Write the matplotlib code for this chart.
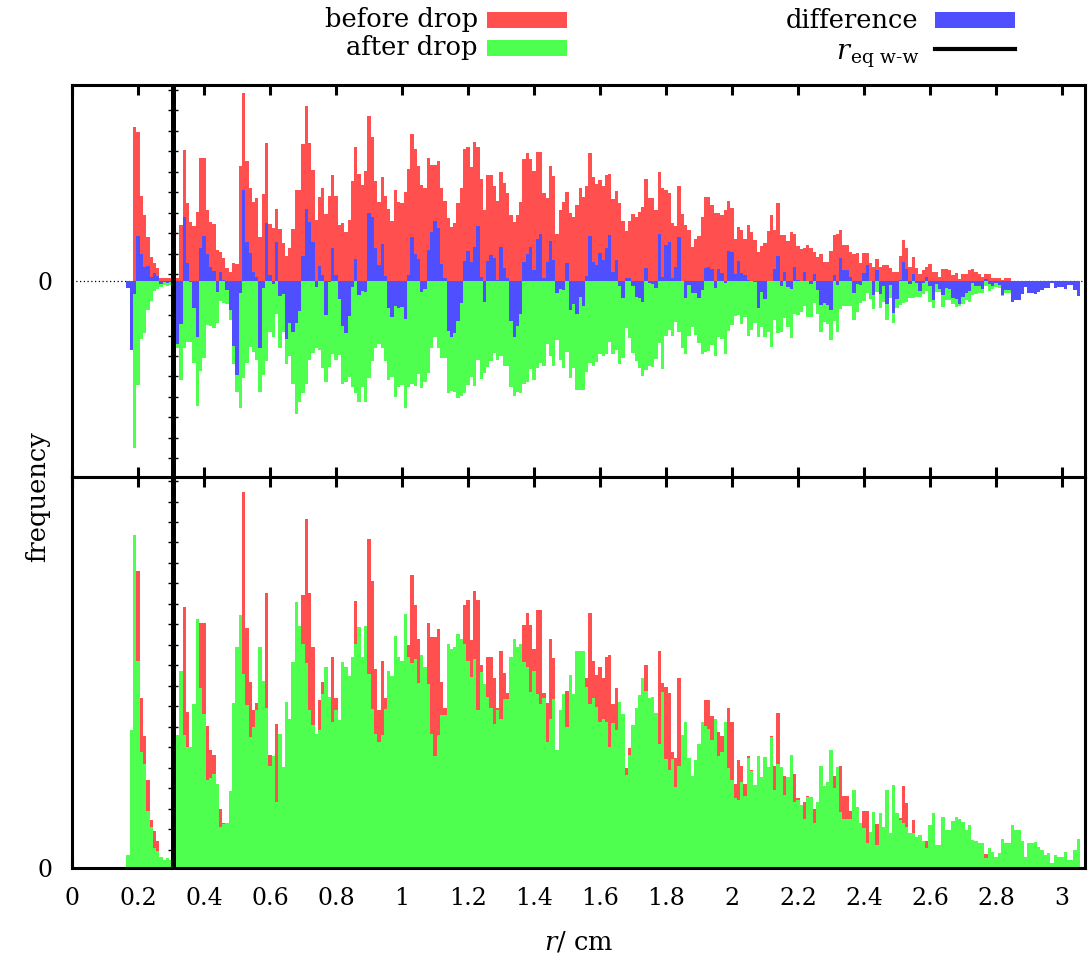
import numpy as np
import matplotlib.pyplot as plt
from matplotlib.patches import Rectangle
from matplotlib.lines import Line2D
from matplotlib.ticker import MultipleLocator

plt.rcParams['font.family'] = ['DejaVu Serif']
plt.rcParams['mathtext.fontset'] = 'dejavuserif'

# histogram bins: centres from 0.17 cm in steps of 0.01 cm
bin_first = 0.17
bin_width = 0.01
r_eq = 0.305

# counts before the drop (arbitrary units)
before = (
    # 0.17 - 0.31
    [0, 0, 461, 447, 255, 198, 132, 72, 55, 40, 8, 10, 10, 8, 8]
    # 0.32 - 0.62
    + [10, 168, 393, 235, 178, 165, 206, 368, 368, 213, 178, 170, 93, 88, 68, 40,
       28, 53, 50, 345, 565, 361, 280, 238, 248, 132, 260, 413, 170, 160, 216]
    # 0.63 - 1.11
    + [156, 113, 75, 98, 156, 273, 273, 411, 525, 414, 333, 183, 252, 279, 201,
       255, 318, 255, 168, 174, 147, 183, 300, 402, 321, 288, 330, 495, 432, 300,
       237, 312, 255, 216, 180, 273, 237, 234, 267, 336, 441, 396, 345, 288, 279,
       369, 348, 348, 360]
    # 1.12 - 1.59
    + [280, 240, 188, 163, 175, 233, 278, 396, 403, 343, 416, 403, 306, 213, 318,
       318, 285, 240, 326, 293, 263, 198, 176, 198, 238, 366, 383, 366, 330, 388,
       388, 263, 248, 345, 316, 140, 213, 236, 266, 203, 193, 228, 278, 251, 286,
       383, 311, 290]
    # 1.60 - 2.08
    + [303, 286, 318, 320, 246, 270, 234, 180, 150, 180, 201, 193, 208, 222, 306,
       248, 248, 213, 326, 278, 272, 263, 174, 165, 285, 200, 168, 153, 102, 126,
       135, 192, 252, 252, 228, 204, 204, 198, 213, 240, 219, 126, 162, 153, 126,
       168, 147, 123, 87]
    # 2.09 - 2.56
    + [105, 113, 151, 198, 153, 233, 138, 138, 120, 147, 141, 105, 95, 100, 108,
       98, 88, 72, 81, 58, 58, 90, 138, 141, 153, 108, 108, 86, 81, 83, 55, 85,
       85, 53, 41, 66, 43, 48, 48, 40, 28, 28, 75, 123, 98, 43, 72, 40]
    # 2.57 - 3.05
    + [20, 33, 41, 50, 26, 26, 11, 36, 36, 33, 18, 23, 6, 21, 21, 33, 36, 26, 21,
       13, 21, 21, 10, 10, 10, 3, 10, 10, 0, 0, 0, 0, 0, 0, 0, 0, 0, 0, 0, 0, 0,
       0, 0, 0, 0, 0, 0, 0, 0]
)

# counts after the drop
after = (
    [20, 207, 501, 311, 174, 156, 86, 61, 30, 25, 17, 12, 15, 12, 150]
    + [200, 296, 200, 182, 182, 247, 374, 270, 232, 132, 135, 141, 126, 61, 66, 68,
       116, 248, 333, 381, 292, 245, 197, 212, 237, 333, 281, 240, 153, 168, 100]
    + [202, 152, 250, 224, 310, 400, 364, 337, 309, 238, 215, 202, 207, 262, 302,
       257, 220, 237, 222, 310, 302, 289, 317, 337, 362, 317, 364, 292, 239, 202,
       190, 200, 239, 296, 288, 349, 317, 312, 382, 317, 309, 314, 278, 320, 302,
       277, 202, 169, 200]
    + [230, 230, 337, 330, 332, 352, 344, 337, 312, 287, 314, 237, 295, 277, 257,
       240, 217, 237, 224, 254, 254, 317, 344, 332, 337, 310, 302, 264, 297, 262,
       247, 255, 190, 224, 254, 177, 237, 262, 212, 290, 262, 327, 327, 327, 272,
       247, 255, 242]
    + [220, 224, 220, 182, 218, 207, 250, 232, 140, 170, 215, 240, 260, 285, 266,
       255, 257, 233, 186, 265, 164, 147, 164, 122, 153, 200, 220, 165, 139, 163,
       187, 219, 214, 209, 192, 224, 168, 175, 220, 150, 133, 106, 102, 130, 108,
       165, 146, 125, 169]
    + [137, 167, 152, 197, 117, 157, 152, 110, 137, 170, 100, 102, 94, 74, 107,
       107, 67, 100, 154, 124, 130, 177, 120, 152, 84, 74, 74, 74, 117, 92, 67, 60,
       37, 54, 84, 34, 82, 62, 117, 52, 125, 82, 72, 67, 62, 52, 52, 47]
    + [49, 40, 30, 64, 82, 34, 34, 77, 57, 57, 70, 77, 74, 69, 57, 64, 42, 40, 37,
       37, 15, 30, 24, 17, 22, 44, 37, 37, 64, 57, 57, 40, 17, 37, 37, 39, 32, 27,
       20, 22, 7, 20, 17, 17, 24, 12, 12, 27, 44]
)

xticks = [0, 0.2, 0.4, 0.6, 0.8, 1, 1.2, 1.4, 1.6, 1.8, 2, 2.2, 2.4, 2.6, 2.8, 3]
xtick_labels = ['0', '0.2', '0.4', '0.6', '0.8', '1', '1.2', '1.4', '1.6', '1.8',
                '2', '2.2', '2.4', '2.6', '2.8', '3']

before = np.array(before, dtype=float)
after = np.array(after, dtype=float)
r = np.round(bin_first + bin_width * np.arange(len(before)), 2)
diff = before - after

RED = '#ff4f4f'
GREEN = '#4fff4f'
BLUE = '#4f4fff'
FS_TICK = 17
FS = 18.5

W, H = 1088, 958
fig = plt.figure(figsize=(W / 100, H / 100), dpi=100)
ax1 = fig.add_axes([72 / W, 1 - 477 / H, 1013 / W, 392 / H])
ax2 = fig.add_axes([72 / W, 1 - 868 / H, 1013 / W, 391 / H])

ymax = 588
bar_kw = dict(width=bin_width, linewidth=0, align='center')

ax1.axhline(0, color='k', lw=0.9, ls=(0, (1, 2)), zorder=0.5)
ax1.bar(r, before, color=RED, zorder=1, **bar_kw)
ax1.bar(r, -after, color=GREEN, zorder=1, **bar_kw)
ax1.bar(r, diff, color=BLUE, zorder=2, **bar_kw)
ax1.set_ylim(-ymax, ymax)

ax2.bar(r, before, color=RED, zorder=1, **bar_kw)
ax2.bar(r, after, color=GREEN, zorder=2, **bar_kw)
ax2.set_ylim(0, ymax)

for ax, step, off in ((ax1, 61.5, 21), (ax2, 30.8, 27.5)):
    ax.set_xlim(0, 3.07)
    ax.axvline(r_eq, color='k', lw=3.6, zorder=5)
    sec = ax.secondary_yaxis(r_eq / 3.07)
    sec.spines[:].set_visible(False)
    sec.yaxis.set_major_locator(MultipleLocator(step, offset=off))
    sec.tick_params(direction='inout', length=7, width=1,
                    labelleft=False, labelright=False)
    ax.set_xticks(xticks)
    ax.tick_params(axis='x', direction='in', top=True, length=7, width=2.2)
    ax.tick_params(axis='y', direction='in', length=0, pad=14, labelsize=FS_TICK)
    ax.set_yticks([0])
    ax.set_yticklabels(['0'])
    for s in ax.spines.values():
        s.set_linewidth(2.2)

ax1.set_xticklabels([])
ax2.set_xticklabels(xtick_labels, fontsize=FS_TICK)
ax2.tick_params(axis='x', pad=14)
ax2.set_xlabel('$r$/ cm', fontsize=FS, labelpad=14)

fig.text(38 / W, 1 - 497 / H, 'frequency', rotation=90, ha='center',
         va='center', fontsize=FS)

# legend, drawn by hand in two columns
def box(x, y, color):
    fig.add_artist(Rectangle((x / W, 1 - (y + 8) / H), 80 / W, 16 / H,
                             transform=fig.transFigure, color=color, lw=0))

fig.text(478 / W, 1 - 20 / H, 'before drop', ha='right', va='center', fontsize=FS)
box(487, 20, RED)
fig.text(478 / W, 1 - 48 / H, 'after drop', ha='right', va='center', fontsize=FS)
box(487, 48, GREEN)
fig.text(918 / W, 1 - 20 / H, 'difference', ha='right', va='center', fontsize=FS)
box(935, 20, BLUE)
sub = fig.text(918 / W, 1 - 58 / H, 'eq w-w', ha='right', va='center',
               fontsize=FS - 5)
plt.annotate('r', xy=(-0.02, 0.45), xycoords=sub, ha='right', va='baseline',
             fontsize=FS + 1, style='italic', annotation_clip=False)
fig.add_artist(Line2D([935 / W, 1015 / W], [1 - 49 / H, 1 - 49 / H],
                      transform=fig.transFigure, color='k', lw=3))

fig.savefig('out.png', dpi=100)
